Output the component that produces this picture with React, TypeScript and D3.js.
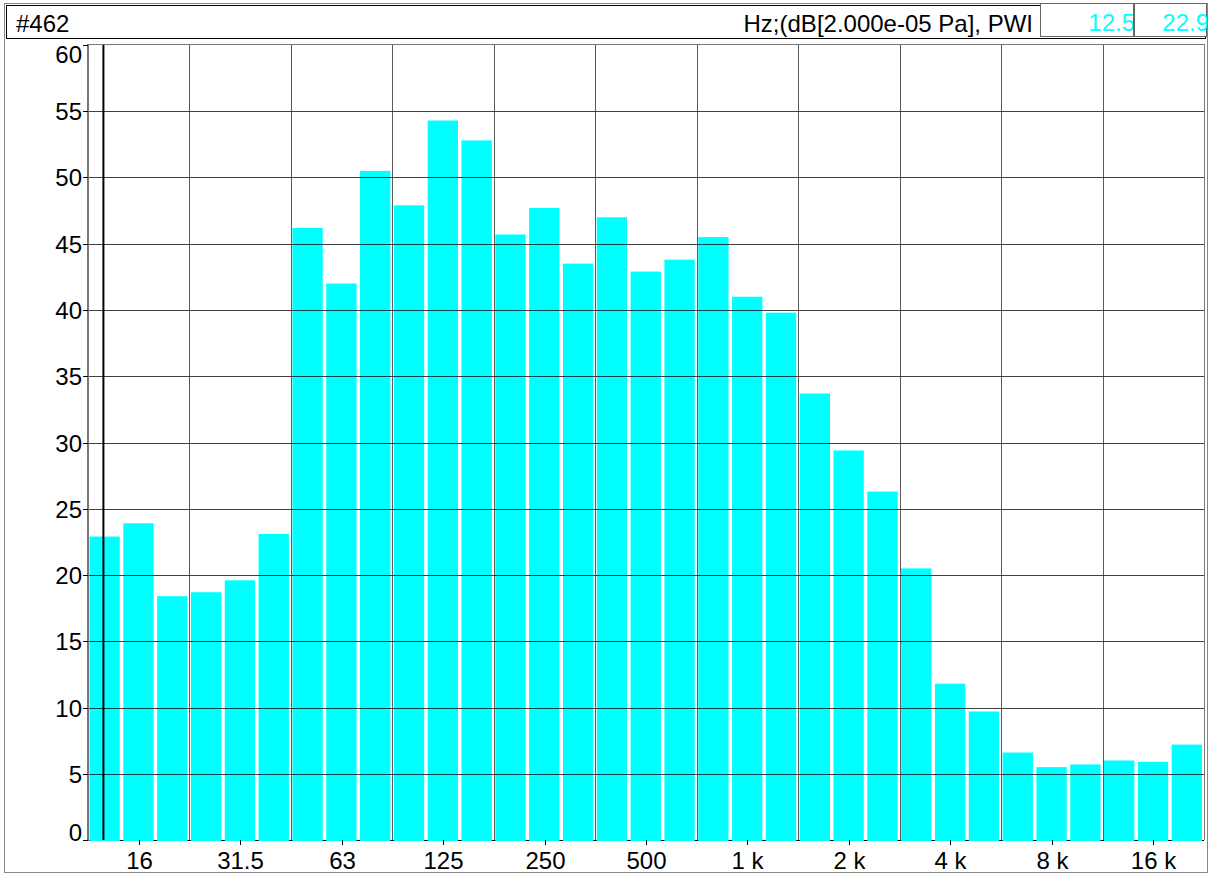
import React from "react";
import * as d3 from "d3";

const bands = ["12.5","16","20","25","31.5","40","50","63","80","100","125","160","200","250","315","400","500","630","800","1 k","1.25 k","1.6 k","2 k","2.5 k","3.15 k","4 k","5 k","6.3 k","8 k","10 k","12.5 k","16 k","20 k"];
const levels = [22.9,23.9,18.4,18.7,19.6,23.1,46.2,42.0,50.5,47.9,54.3,52.8,45.7,47.7,43.5,47.0,42.9,43.8,45.5,41.0,39.8,33.7,29.4,26.3,20.5,11.8,9.7,6.6,5.5,5.7,6.0,5.9,7.2];
const labelBands = ["16","31.5","63","125","250","500","1 k","2 k","4 k","8 k","16 k"];
const yTicks = [0,5,10,15,20,25,30,35,40,45,50,55,60];
const headerLeft = "#462";
const headerRight = "Hz;(dB[2.000e-05 Pa], PWI";
const cursorBand = "12.5";
const cursorValue = "22.9";

const W = 1209, H = 874;
const L = 88, R = 1204, T = 45, B = 840;
const FONT = "'Liberation Sans', Arial, sans-serif";
const FS = 24;

export default function App() {
  const x = d3.scaleBand<string>().domain(bands).range([L, R]).padding(0);
  const y = d3.scaleLinear().domain([0, 60]).range([B, T]);
  const bw = x.bandwidth();
  const gridX = bands.map((b, i) => i).filter(i => i > 0 && i % 3 === 0).map(i => L + i * bw);
  const cx = (x(cursorBand) as number) + bw / 2 - 1.5;
  return (
    <svg width={W} height={H} style={{ position: "absolute", left: 0, top: 0, background: "#fff" }} fontFamily={FONT}>
      {/* outer frame */}
      <rect x={4.5} y={3.5} width={1203} height={869} fill="none" stroke="#888" strokeWidth={1} />
      {/* header */}
      <rect x={6.5} y={5.5} width={1199} height={33} fill="#fff" stroke="#000" strokeWidth={1} />
      <text x={16} y={32} fontSize={FS} fill="#000">{headerLeft}</text>
      <text x={1033} y={32} fontSize={FS} fill="#000" textAnchor="end">{headerRight}</text>
      <rect x={1040.5} y={3.5} width={93} height={33} fill="#fff" stroke="#666" strokeWidth={1} />
      <rect x={1134.5} y={3.5} width={72} height={33} fill="#fff" stroke="#666" strokeWidth={1} />
      <defs>
        <clipPath id="c1"><rect x={1041} y={4} width={92} height={32} /></clipPath>
        <clipPath id="c2"><rect x={1135} y={4} width={72} height={32} /></clipPath>
      </defs>
      <text x={1135} y={31} fontSize={FS} fill="#00ffff" textAnchor="end" clipPath="url(#c1)">{cursorBand}</text>
      <text x={1209} y={31} fontSize={FS} fill="#00ffff" textAnchor="end" clipPath="url(#c2)">{cursorValue}</text>
      {/* axis line under bars */}
      <line x1={L} x2={R} y1={B + 0.5} y2={B + 0.5} stroke="#000" />
      {/* bars */}
      {bands.map((b, i) => (
        <rect key={b} x={(x(b) as number) + 1.5} y={y(levels[i])} width={bw - 3.5} height={B + 1 - y(levels[i])} fill="#00ffff" />
      ))}
      {/* horizontal grid */}
      {yTicks.filter(t => t > 0 && t < 60).map(t => (
        <line key={t} x1={L} x2={R} y1={Math.round(y(t)) + 0.5} y2={Math.round(y(t)) + 0.5} stroke="#000" strokeOpacity={0.75} />
      ))}
      {/* vertical grid */}
      {gridX.map(gx => (
        <line key={gx} x1={Math.round(gx) + 0.5} x2={Math.round(gx) + 0.5} y1={T} y2={B} stroke="#333" strokeOpacity={0.8} />
      ))}
      {/* cursor */}
      <line x1={cx} x2={cx} y1={T} y2={B} stroke="#000" strokeWidth={2} />
      {/* plot frame */}
      <line x1={L} x2={L} y1={T - 1} y2={B + 1} stroke="#777" strokeWidth={2} />
      <line x1={L} x2={R} y1={T - 0.5} y2={T - 0.5} stroke="#777" strokeWidth={1} />
      <line x1={R + 0.5} x2={R + 0.5} y1={T - 1} y2={B} stroke="#777" strokeWidth={1} />
      {/* y ticks and labels */}
      {yTicks.map(t => {
        const yy = Math.round(y(t)) + 0.5;
        let ty = yy + 8;
        if (t === 60) ty = yy + 17.5;
        if (t === 0) ty = yy;
        return (
          <g key={t}>
            <line x1={83} x2={L} y1={yy} y2={yy} stroke="#000" />
            <text x={82} y={ty} fontSize={FS} textAnchor="end" fill="#000">{t}</text>
          </g>
        );
      })}
      {/* x ticks and labels */}
      {labelBands.map(b => {
        const xx = Math.round((x(b) as number) + bw / 2) + 0.5;
        return (
          <g key={b}>
            <line x1={xx} x2={xx} y1={B} y2={B + 5} stroke="#000" />
            <text x={xx} y={869} fontSize={FS} textAnchor="middle" fill="#000">{b}</text>
          </g>
        );
      })}
    </svg>
  );
}
